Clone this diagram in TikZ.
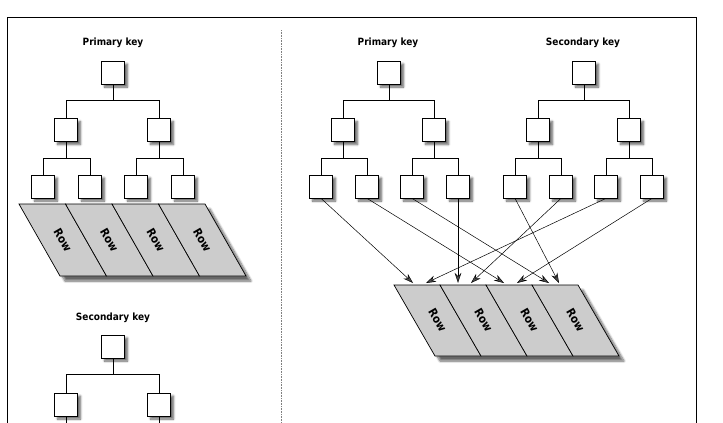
\documentclass[tikz,border=0pt]{standalone}
\usepackage{fontspec}
\setmainfont{DejaVu Sans Condensed}
\usetikzlibrary{arrows.meta,shadows.blur}
\definecolor{rowgray}{gray}{0.8}

\begin{document}
\begin{tikzpicture}[x=1pt,y=-1pt,
	keybox/.style={draw,fill=white,minimum size=23pt,inner sep=0pt,line width=0.7pt,
		blur shadow={shadow xshift=3pt,shadow yshift=-3pt,shadow blur steps=6,shadow opacity=60}},
	keylabel/.style={font=\bfseries\fontsize{10}{12}\selectfont},
	rowlabel/.style={font=\bfseries\fontsize{11.5}{13}\selectfont,rotate=-60,inner sep=0pt},
	rowcell/.style={draw,fill=rowgray,line width=0.7pt},
	rowshadow/.style={blur shadow={shadow xshift=5pt,shadow yshift=-5pt,shadow blur steps=8,shadow opacity=60}},
	link/.style={line width=0.7pt},
	ptr/.style={-{Stealth[length=10pt,width=6.5pt]},line width=0.5pt}]
		\useasboundingbox (0,0) rectangle (723,423);
		\clip (0,0) rectangle (723,423);
		\draw [line width=0.8pt] (7,440) -- (7,17) -- (696,17) -- (696,440);
		\draw [densely dotted,gray,line width=0.6pt] (281,30) -- (281,440);
		\node [keylabel] (lplabel) at (113,43) {Primary key};
		\node [keybox] (lp) at (113,72.5) {};
		\node [keybox] (lpa) at (66,130) {};
		\node [keybox] (lpb) at (159,130) {};
		\node [keybox] (lpa1) at (43,186.5) {};
		\node [keybox] (lpa2) at (90,186.5) {};
		\node [keybox] (lpb1) at (136,186.5) {};
		\node [keybox] (lpb2) at (183,186.5) {};
		\draw [link] (lp.south) -- ++(0,16) -| (lpa.north);
		\draw [link] (lp.south) -- ++(0,16) -| (lpb.north);
		\draw [link] (lpa.south) -- ++(0,16) -| (lpa1.north);
		\draw [link] (lpa.south) -- ++(0,16) -| (lpa2.north);
		\draw [link] (lpb.south) -- ++(0,16) -| (lpb1.north);
		\draw [link] (lpb.south) -- ++(0,16) -| (lpb2.north);
		\path [rowshadow,fill=rowgray] (19,204) -- (205,204) -- (246,276) -- (60,276) -- cycle;
		\foreach \i in {0,...,3} {
			\draw [rowcell] ({19+46.5*\i},204) -- ++(46.5,0) -- ++(41,72) -- ++(-46.5,0) -- cycle;
			\node [rowlabel] (lrow\i) at ({62.75+46.5*\i},240) {Row};
		}
		\node [keylabel] (lslabel) at (113,318) {Secondary key};
		\node [keybox] (ls) at (113,346.5) {};
		\node [keybox] (lsa) at (66,404.5) {};
		\node [keybox] (lsb) at (159,404.5) {};
		\draw [link] (ls.south) -- ++(0,16) -| (lsa.north);
		\draw [link] (ls.south) -- ++(0,16) -| (lsb.north);
		\draw [link] (lsa.south) -- ++(0,20);
		\draw [link] (lsb.south) -- ++(0,20);
		\node [keylabel] (rplabel) at (388,43) {Primary key};
		\node [keybox] (rp) at (389,72.5) {};
		\node [keybox] (rpa) at (343,130) {};
		\node [keybox] (rpb) at (434,130) {};
		\node [keybox] (rpa1) at (321,186.5) {};
		\node [keybox] (rpa2) at (367,186.5) {};
		\node [keybox] (rpb1) at (412,186.5) {};
		\node [keybox] (rpb2) at (458,186.5) {};
		\draw [link] (rp.south) -- ++(0,16) -| (rpa.north);
		\draw [link] (rp.south) -- ++(0,16) -| (rpb.north);
		\draw [link] (rpa.south) -- ++(0,16) -| (rpa1.north);
		\draw [link] (rpa.south) -- ++(0,16) -| (rpa2.north);
		\draw [link] (rpb.south) -- ++(0,16) -| (rpb1.north);
		\draw [link] (rpb.south) -- ++(0,16) -| (rpb2.north);
		\node [keylabel] (rslabel) at (583,43) {Secondary key};
		\node [keybox] (rs) at (584,72.5) {};
		\node [keybox] (rsa) at (538,130) {};
		\node [keybox] (rsb) at (629,130) {};
		\node [keybox] (rsa1) at (515,186.5) {};
		\node [keybox] (rsa2) at (561,186.5) {};
		\node [keybox] (rsb1) at (606,186.5) {};
		\node [keybox] (rsb2) at (652,186.5) {};
		\draw [link] (rs.south) -- ++(0,16) -| (rsa.north);
		\draw [link] (rs.south) -- ++(0,16) -| (rsb.north);
		\draw [link] (rsa.south) -- ++(0,16) -| (rsa1.north);
		\draw [link] (rsa.south) -- ++(0,16) -| (rsa2.north);
		\draw [link] (rsb.south) -- ++(0,16) -| (rsb1.north);
		\draw [link] (rsb.south) -- ++(0,16) -| (rsb2.north);
		\path [rowshadow,fill=rowgray] (394,285) -- (578,285) -- (619,356) -- (435,356) -- cycle;
		\foreach \i in {0,...,3} {
			\draw [rowcell] ({394+46*\i},285) -- ++(46,0) -- ++(41,71) -- ++(-46,0) -- cycle;
			\node [rowlabel] (rrow\i) at ({437.5+46*\i},320.5) {Row};
		}
		\coordinate (t1) at (413,283);
		\coordinate (t2) at (426,283);
		\coordinate (t3) at (458,283);
		\coordinate (t4) at (471,283);
		\coordinate (t5) at (504,283);
		\coordinate (t6) at (517,283);
		\coordinate (t7) at (549,283);
		\coordinate (t8) at (559,283);
		\draw [ptr] (rpa1.south) -- (t1);
		\draw [ptr] (rpa2.south) -- (t5);
		\draw [ptr] (rpb1.south) -- (t7);
		\draw [ptr] (rpb2.south) -- (t3);
		\draw [ptr] (rsa1.south) -- (t8);
		\draw [ptr] (rsa2.south) -- (t4);
		\draw [ptr] (rsb1.south) -- (t2);
		\draw [ptr] (rsb2.south) -- (t6);
	\end{tikzpicture}
\end{document}
